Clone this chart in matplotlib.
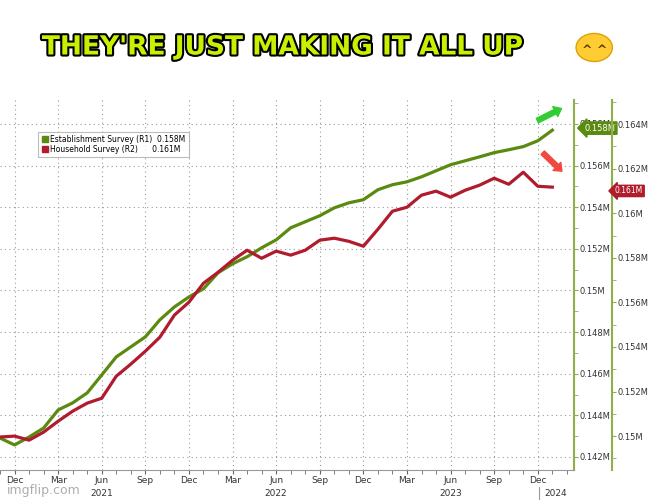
import numpy as np
import matplotlib.pyplot as plt
import matplotlib.patheffects as pe
from matplotlib.ticker import FuncFormatter, MultipleLocator
from matplotlib.lines import Line2D

# monthly, Nov 2020 .. Jan 2024 (thousands)
establishment = [142.91, 142.58, 142.96, 143.39, 144.26, 144.60, 145.08, 145.94, 146.81, 147.29,
                 147.77, 148.59, 149.21, 149.69, 150.08, 150.85, 151.28, 151.62, 152.05, 152.43,
                 153.01, 153.30, 153.59, 153.97, 154.21, 154.36, 154.84, 155.08, 155.22, 155.46,
                 155.75, 156.04, 156.23, 156.42, 156.62, 156.76, 156.91, 157.19, 157.70]
household = [149.96, 150.00, 149.82, 150.18, 150.67, 151.12, 151.48, 151.70, 152.69, 153.23,
             153.81, 154.44, 155.43, 156.01, 156.86, 157.35, 157.89, 158.34, 157.98, 158.30,
             158.12, 158.34, 158.79, 158.88, 158.74, 158.52, 159.28, 160.09, 160.27, 160.81,
             160.99, 160.72, 161.03, 161.26, 161.57, 161.30, 161.84, 161.21, 161.17]
month_labels = ["Dec", "Mar", "Jun", "Sep"]
years = ["2021", "2022", "2023", "2024"]

green = "#5a8a10"
red = "#b01c2e"
x = np.arange(len(establishment))  # 0 = Nov 2020

fig = plt.figure(figsize=(6.48, 5.0), dpi=100)
fig.text(0.435, 0.905, "THEY'RE JUST MAKING IT ALL UP", ha="center", va="center",
         fontsize=19, fontweight="bold", color="#c8f000", family="Liberation Sans Narrow",
         path_effects=[pe.withStroke(linewidth=3, foreground="black")])
# emoji stand-in
fig.patches.append(plt.Circle((0.917, 0.905), 0.028, transform=fig.transFigure,
                              facecolor="#ffcc33", edgecolor="#e0a000", lw=1))
fig.text(0.917, 0.898, "^ ^", ha="center", va="center", fontsize=9, fontweight="bold", color="#5a3a00")

ax = fig.add_axes([0.0, 0.06, 0.886, 0.74])
ax2 = ax.twinx()

ax.plot(x, establishment, color=green, lw=2.3, zorder=3)
ax2.plot(x, household, color=red, lw=2.3, zorder=3)

ax.set_xlim(0, 39.5)
ax.set_ylim(141.375, 159.15)
ax2.set_ylim(148.48, 165.08)

ax.yaxis.tick_right()
for a in (ax, ax2):
    a.yaxis.set_major_locator(MultipleLocator(2))
    a.yaxis.set_minor_locator(MultipleLocator(1))
fmt = FuncFormatter(lambda v, p: ("%.3f" % (v / 1000)).rstrip("0") + "M")
ax.yaxis.set_major_formatter(fmt)
ax2.yaxis.set_major_formatter(fmt)
ax2.spines["right"].set_position(("outward", 27))

for a in (ax, ax2):
    for s in ("top", "left", "bottom"):
        a.spines[s].set_visible(False)
    a.spines["right"].set_color("#8db04a")
    a.spines["right"].set_linewidth(1.5)
    a.tick_params(axis="y", which="both", colors="#8db04a", labelcolor="#333333",
                  labelsize=6, length=3, pad=1)
ax.spines["bottom"].set_visible(True)
ax.spines["bottom"].set_color("#999999")

ticks = np.arange(1, 40, 3)
ax.set_xticks(ticks)
ax.set_xticklabels([month_labels[i % 4] for i in range(len(ticks))], fontsize=6.5, color="#333333")
ax.set_xticks(np.arange(0, 40), minor=True)
ax.tick_params(axis="x", which="both", length=3, color="#666666", pad=1)
ax.grid(True, which="major", color="#999999", ls=(0, (1, 3)), lw=0.8)
ax2.grid(False)

xt = ax.get_xaxis_transform()
for i, yr in enumerate(years[:3]):
    ax.text(7 + 12 * i, -0.052, yr, transform=xt, ha="center", va="top", fontsize=6.5, color="#333333")
ax.text(38.2, -0.052, years[3], transform=xt, ha="center", va="top", fontsize=6.5, color="#333333")
ax.plot([37.1, 37.1], [-0.045, -0.09], transform=xt, color="#999999", lw=0.8, clip_on=False)

# legend
handles = [Line2D([], [], marker="s", ls="", color=green, markersize=5),
           Line2D([], [], marker="s", ls="", color=red, markersize=5)]
leg = ax.legend(handles, ["Establishment Survey (R1)  0.158M", "Household Survey (R2)      0.161M"],
                loc="upper left", bbox_to_anchor=(0.06, 0.925), fontsize=5.5, frameon=True,
                fancybox=False, edgecolor="#aaaaaa", handletextpad=0.2, borderpad=0.4,
                labelspacing=0.2, handlelength=1)
leg.get_frame().set_linewidth(0.8)

# value tags
ax.text(40.2, 157.8, "0.158M", color="white", fontsize=6, va="center",
        bbox=dict(boxstyle="larrow,pad=0.2", fc=green, ec=green), clip_on=False)
ax2.text(42.3, 161.0, "0.161M", color="white", fontsize=5.5, va="center",
         bbox=dict(boxstyle="larrow,pad=0.15", fc=red, ec=red), clip_on=False)

# arrows
ax.annotate("", xy=(38.8, 158.8), xytext=(36.8, 158.1),
            arrowprops=dict(arrowstyle="simple,head_width=0.8,tail_width=0.35", color="#33cc33"))
ax2.annotate("", xy=(38.8, 161.8), xytext=(37.2, 162.8),
             arrowprops=dict(arrowstyle="simple,head_width=0.8,tail_width=0.35", color="#f04a40"))

fig.text(0.01, 0.012, "imgflip.com", fontsize=9, color="#999999", alpha=0.8)

fig.savefig("out.png", dpi=100)
